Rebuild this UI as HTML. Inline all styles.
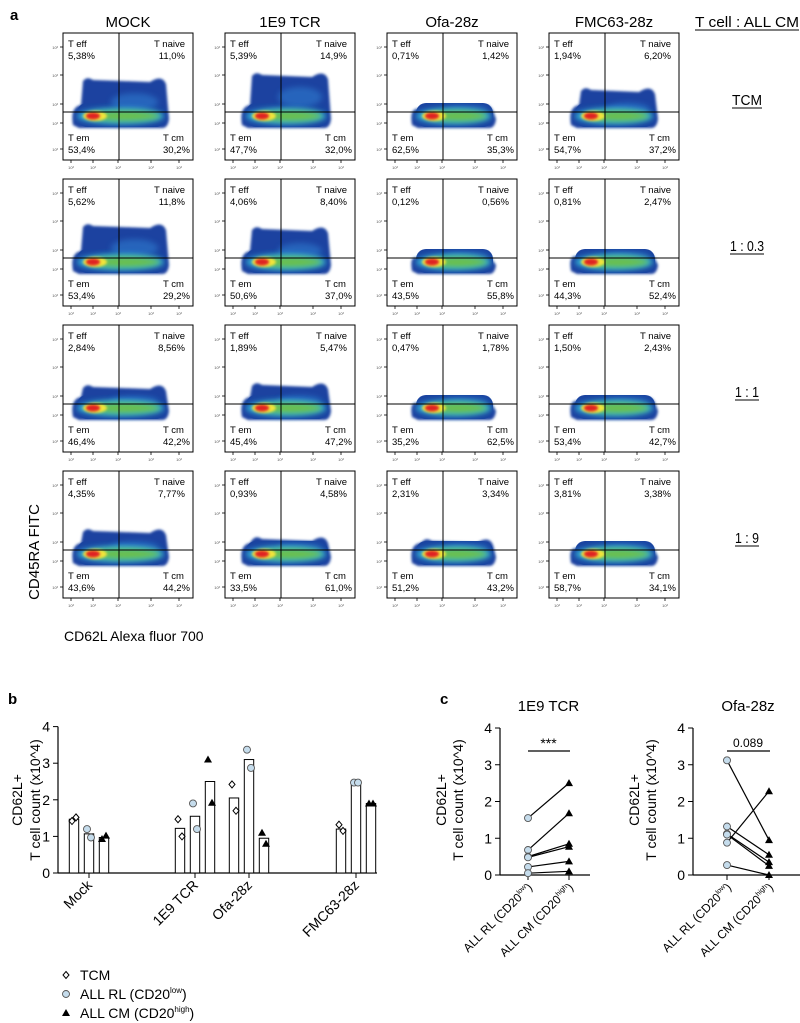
<!DOCTYPE html>
<html><head><meta charset="utf-8"><style>
body{margin:0;background:#fff;width:800px;height:1023px;overflow:hidden;font-family:"Liberation Sans",sans-serif}
svg{position:absolute;left:0;top:0}
</style></head><body>
<svg id="s" width="800" height="1023" viewBox="0 0 800 1023" xmlns="http://www.w3.org/2000/svg">
<defs>
<filter id="bl" x="-20%" y="-50%" width="140%" height="200%"><feGaussianBlur stdDeviation="3"/></filter>
<filter id="bl2" x="-20%" y="-50%" width="140%" height="200%"><feGaussianBlur stdDeviation="1.2"/></filter>
</defs>
<g id="flow"></g>
<g id="pb"></g>
<g id="pc"></g>
</svg>
<script>
const NS="http://www.w3.org/2000/svg";
function mk(parent,tag,attrs,txt){const e=document.createElementNS(NS,tag);for(const k in attrs)e.setAttribute(k,attrs[k]);if(txt!==undefined)e.textContent=txt;parent.appendChild(e);return e;}

// ---------- Panel a data ----------
const colNames=["MOCK","1E9 TCR","Ofa-28z","FMC63-28z"];
const rowNames=["TCM","1 : 0.3","1 : 1","1 : 9"];
const pctEff=[["5,38%","5,39%","0,71%","1,94%"],["5,62%","4,06%","0,12%","0,81%"],["2,84%","1,89%","0,47%","1,50%"],["4,35%","0,93%","2,31%","3,81%"]];
const pctNaive=[["11,0%","14,9%","1,42%","6,20%"],["11,8%","8,40%","0,56%","2,47%"],["8,56%","5,47%","1,78%","2,43%"],["7,77%","4,58%","3,34%","3,38%"]];
const pctEm=[["53,4%","47,7%","62,5%","54,7%"],["53,4%","50,6%","43,5%","44,3%"],["46,4%","45,4%","35,2%","53,4%"],["43,6%","33,5%","51,2%","58,7%"]];
const pctCm=[["30,2%","32,0%","35,3%","37,2%"],["29,2%","37,0%","55,8%","52,4%"],["42,2%","47,2%","62,5%","42,7%"],["44,2%","61,0%","43,2%","34,1%"]];
const humpTop=[[45,40,72,55],[45,48,76,74],[60,58,75,72],[58,66,68,74]];

const F=document.getElementById('flow');
const px0=63,py0=33,pw=130,ph=127,dx=162,dy=146;
const hdr=mk(F,'g',{});

mk(F,'text',{x:10,y:20,'font-size':15,'font-weight':'bold'},'a');
colNames.forEach((n,i)=>{const t=mk(hdr,'text',{x:px0+i*dx+65,y:27,'font-size':15,'text-anchor':'middle'},n);});
const tc=mk(F,'text',{x:747,y:27,'font-size':15,'text-anchor':'middle','textLength':104,'lengthAdjust':'spacingAndGlyphs'},'T cell : ALL CM');

mk(F,'line',{x1:695,x2:799,y1:30,y2:30,stroke:'#000','stroke-width':1});
const ulw=[30,34,24,24];
rowNames.forEach((n,r)=>{const cy=py0+r*dy+72;const t=mk(F,'text',{x:747,y:cy,'font-size':15,'text-anchor':'middle','textLength':ulw[r],'lengthAdjust':'spacingAndGlyphs'},n);
 const w=ulw[r];mk(F,'line',{x1:747-w/2,x2:747+w/2,y1:cy+3,y2:cy+3,stroke:'#000','stroke-width':1});});
const extents=[[10,105],[17,105],[25,108],[22,108]];
for(let r=0;r<4;r++)for(let c=0;c<4;c++){
 const x=px0+c*dx,y=py0+r*dy;
 const g=mk(F,'g',{transform:`translate(${x},${y})`});
 
 mk(g,'rect',{x:0,y:0,width:pw,height:ph,fill:'#fff',stroke:'#000','stroke-width':1});
 const [a,b]=extents[c];const top=humpTop[r][c];
 const d=`M${a},92 Q${a-3},${74} ${a+8},${Math.max(top,68)+4} L${a+10},${top+3} Q${a+14},${top-2} ${a+20},${top+2} L${b-18},${top+4} Q${b-6},${top-4} ${b-2},${top+6} L${b+1},86 Q${b},95 ${b-6},95 L${a+6},95 Z`;
 mk(g,'path',{d:d,fill:'#1a43a0',filter:'url(#bl2)'});
 mk(g,'rect',{x:a+4,y:70,width:b-a-6,height:24,rx:10,fill:'#1a43a0'});
 mk(g,'ellipse',{cx:(a+b)/2+14,cy:Math.min(top+24,76),rx:(b-a)/4,ry:Math.max(3,(80-top)/4),fill:'#2f7ccf',opacity:.6,filter:'url(#bl)'});
 mk(g,'ellipse',{cx:(a+b)/2,cy:83,rx:(b-a)/2-4,ry:8,fill:'#36b8d8',filter:'url(#bl)'});
 mk(g,'ellipse',{cx:(a+b)/2+4,cy:83,rx:(b-a)/2-12,ry:5,fill:'#6cc04a',filter:'url(#bl)'});
 mk(g,'ellipse',{cx:a+22,cy:83,rx:12,ry:5,fill:'#f2e43a',filter:'url(#bl2)'});
 mk(g,'ellipse',{cx:a+20,cy:83,rx:7,ry:3.5,fill:'#e02020',filter:'url(#bl2)'});
 mk(g,'line',{x1:56,x2:56,y1:0,y2:ph,stroke:'#000','stroke-width':1});
 mk(g,'line',{x1:0,x2:pw,y1:79,y2:79,stroke:'#000','stroke-width':1});
 const tt=(tx,ty,s,anc)=>mk(g,'text',{x:tx,y:ty,'font-size':9.5,'text-anchor':anc||'start'},s);
 tt(5,14,'T eff');tt(5,26,pctEff[r][c]);
 tt(122,14,'T naive','end');tt(122,26,pctNaive[r][c],'end');
 tt(5,108,'T em');tt(5,120,pctEm[r][c]);
 tt(100,108,'T cm');tt(100,120,pctCm[r][c]);
 [14,42,71,90,116].forEach(v=>{mk(g,'line',{x1:-3,x2:0,y1:v,y2:v,stroke:'#000','stroke-width':.8});mk(g,'text',{x:-5,y:v+2,'font-size':4,'text-anchor':'end',fill:'#555'},'10³');});
 [8,30,55,88,116].forEach(v=>{mk(g,'line',{x1:v,x2:v,y1:ph,y2:ph+3,stroke:'#000','stroke-width':.8});mk(g,'text',{x:v,y:ph+9,'font-size':4,'text-anchor':'middle',fill:'#555'},'10³');});
}
const yl=mk(F,'text',{x:0,y:0,'font-size':15,'text-anchor':'middle',transform:'translate(39,552) rotate(-90)'},'CD45RA FITC');

const xl=mk(F,'text',{x:64,y:641,'font-size':14},'CD62L Alexa fluor 700');


// ---------- Panel b data ----------
const groups=["Mock","1E9 TCR","Ofa-28z","FMC63-28z"];
const barTCM=[1.47,1.22,2.05,1.2];
const barRL=[1.07,1.55,3.1,2.45];
const barCM=[0.97,2.5,0.95,1.9];
const ptTCM=[[1.42,1.52],[1.47,1.0],[2.42,1.7],[1.32,1.15]];
const ptRL=[[1.2,0.97],[1.9,1.2],[3.37,2.87],[2.47,2.47]];
const ptCM=[[0.93,1.02],[3.1,1.92],[1.1,0.8],[1.9,1.9]];
const yTicksB=[0,1,2,3,4];
const groupCenters=[89,195,249,356];

const B=document.getElementById('pb');
const yb=v=>873-v*36.6;
mk(B,'text',{x:8,y:704,'font-size':15,'font-weight':'bold'},'b');
mk(B,'line',{x1:58,x2:58,y1:yb(4),y2:873,stroke:'#000','stroke-width':1.2});
mk(B,'line',{x1:58,x2:377,y1:873,y2:873,stroke:'#000','stroke-width':1.2});
yTicksB.forEach(v=>{mk(B,'line',{x1:53,x2:58,y1:yb(v),y2:yb(v),stroke:'#000'});const t=mk(B,'text',{x:50,y:yb(v)+5,'font-size':14,'text-anchor':'end'},v);});
const byl=mk(B,'text',{x:0,y:0,'font-size':14,'text-anchor':'middle',transform:'translate(22,800) rotate(-90)'},'CD62L+');

mk(B,'text',{x:0,y:0,'font-size':14,'text-anchor':'middle',transform:'translate(40,800) rotate(-90)'},'T cell count (x10^4)');
function diamond(g,cx,cy){return mk(g,'path',{d:`M${cx},${cy-3.5} L${cx+3},${cy} L${cx},${cy+3.5} L${cx-3},${cy} Z`,fill:'#fff',stroke:'#000','stroke-width':1});}
function circ(g,cx,cy){return mk(g,'circle',{cx:cx,cy:cy,r:3.5,fill:'#c5dcec',stroke:'#555','stroke-width':.9});}
function tri(g,cx,cy){return mk(g,'path',{d:`M${cx},${cy-4} L${cx+4},${cy+3} L${cx-4},${cy+3} Z`,fill:'#000'});}
groups.forEach((gname,i)=>{
 const c=groupCenters[i];
 const xs=[c-15,c,c+15];
 const vals=[barTCM[i],barRL[i],barCM[i]];
 vals.forEach((v,j)=>{const r=mk(B,'rect',{x:xs[j]-4.7,y:yb(v),width:9.4,height:873-yb(v),fill:'#fff',stroke:'#000','stroke-width':1});});
 ptTCM[i].forEach((v,k)=>{const e=diamond(B,xs[0]+(k?2:-2),yb(v));});
 ptRL[i].forEach((v,k)=>{const e=circ(B,xs[1]+(k?2:-2),yb(v));});
 ptCM[i].forEach((v,k)=>{const e=tri(B,xs[2]+(k?2:-2),yb(v));});
 mk(B,'line',{x1:c,x2:c,y1:873,y2:878,stroke:'#000'});
 const t=mk(B,'text',{x:0,y:0,'font-size':14,'text-anchor':'end',transform:`translate(${c+4},${886}) rotate(-45)`},gname);
 
});
const lg=mk(B,'g',{});
diamond(lg,66,975);circ(lg,66,994);tri(lg,66,1013);
mk(lg,'text',{x:80,y:980,'font-size':14},'TCM');
const l2=mk(lg,'text',{x:80,y:999,'font-size':14},'ALL RL (CD20');mk(l2,'tspan',{'font-size':8,dy:-6},'low');mk(l2,'tspan',{dy:6},')');
const l3=mk(lg,'text',{x:80,y:1018,'font-size':14},'ALL CM (CD20');mk(l3,'tspan',{'font-size':8,dy:-6},'high');mk(l3,'tspan',{dy:6},')');

// ---------- Panel c data ----------
const tcrRL=[1.55,0.68,0.5,0.48,0.22,0.05];
const tcrCM=[2.5,1.68,0.85,0.77,0.37,0.1];
const ofaRL=[3.12,0.88,1.32,1.12,1.1,0.27];
const ofaCM=[0.95,2.28,0.55,0.35,0.25,0.0];
const yTicksC=[0,1,2,3,4];
const C=document.getElementById('pc');
mk(C,'text',{x:440,y:704,'font-size':15,'font-weight':'bold'},'c');
const yc=v=>875-v*36.75;
function paired(ax,x1,x2,xend,title,sig,rl,cm){
 const g=mk(C,'g',{});
 mk(g,'text',{x:(x1+x2)/2,y:711,'font-size':15,'text-anchor':'middle'},title);
 mk(g,'line',{x1:ax,x2:ax,y1:yc(4),y2:875,stroke:'#000','stroke-width':1.2});
 mk(g,'line',{x1:ax,x2:xend,y1:875,y2:875,stroke:'#000','stroke-width':1.2});
 yTicksC.forEach(v=>{mk(g,'line',{x1:ax-5,x2:ax,y1:yc(v),y2:yc(v),stroke:'#000'});mk(g,'text',{x:ax-8,y:yc(v)+5,'font-size':14,'text-anchor':'end'},v);});
 mk(g,'text',{x:0,y:0,'font-size':14,'text-anchor':'middle',transform:`translate(${ax-54},800) rotate(-90)`},'CD62L+');
 mk(g,'text',{x:0,y:0,'font-size':14,'text-anchor':'middle',transform:`translate(${ax-37},800) rotate(-90)`},'T cell count (x10^4)');
 [x1,x2].forEach(x=>mk(g,'line',{x1:x,x2:x,y1:875,y2:880,stroke:'#000'}));
 mk(g,'line',{x1:x1,x2:x2+1,y1:751,y2:751,stroke:'#000','stroke-width':1.2});
 mk(g,'text',{x:(x1+x2)/2,y:sig==='***'?748:747,'font-size':sig==='***'?14:12,'text-anchor':'middle'},sig);
 rl.forEach((v,i)=>{const l=mk(g,'line',{x1:x1,y1:yc(v),x2:x2,y2:yc(cm[i]),stroke:'#000','stroke-width':1.2});});
 rl.forEach(v=>{const e=circ(g,x1,yc(v));});
 cm.forEach(v=>{const e=tri(g,x2,yc(v));});
 const a=mk(g,'text',{x:0,y:0,'font-size':12,'text-anchor':'end',transform:`translate(${x1+5},888) rotate(-45)`},'ALL RL (CD20');mk(a,'tspan',{'font-size':7,dy:-5},'low');mk(a,'tspan',{dy:5},')');
 const b=mk(g,'text',{x:0,y:0,'font-size':12,'text-anchor':'end',transform:`translate(${x2+5},888) rotate(-45)`},'ALL CM (CD20');mk(b,'tspan',{'font-size':7,dy:-5},'high');mk(b,'tspan',{dy:5},')');
}
paired(500,528,569,590,'1E9 TCR','***',tcrRL,tcrCM);
paired(693,727,769,800,'Ofa-28z','0.089',ofaRL,ofaCM);
</script>
</body></html>
